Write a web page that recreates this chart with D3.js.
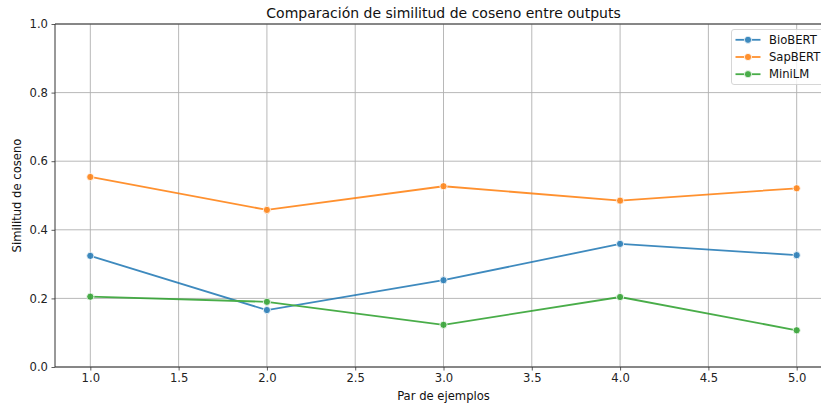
<!DOCTYPE html>
<html>
<head>
<meta charset="utf-8">
<script src="https://cdn.jsdelivr.net/npm/d3@7"></script>
<style>
  html, body { margin: 0; padding: 0; background: #fff; overflow: hidden; }
  svg { display: block; font-family: "DejaVu Sans", sans-serif; }
</style>
</head>
<body>
<svg id="chart" width="821" height="406"></svg>
<script>
// Cosine similarity per example pair, one array per model
const pairs = [1, 2, 3, 4, 5];
const bioBERT = [0.324, 0.166, 0.253, 0.359, 0.326];
const sapBERT = [0.554, 0.458, 0.527, 0.485, 0.521];
const miniLM  = [0.205, 0.190, 0.123, 0.204, 0.107];
const seriesNames = ["BioBERT", "SapBERT", "MiniLM"];
const seriesColors = ["#1f77b4", "#ff7f0e", "#2ca02c"];
const xTicks = [1.0, 1.5, 2.0, 2.5, 3.0, 3.5, 4.0, 4.5, 5.0];
const yTicks = [0.0, 0.2, 0.4, 0.6, 0.8, 1.0];

const series = [bioBERT, sapBERT, miniLM].map((vals, i) => ({
  name: seriesNames[i],
  color: seriesColors[i],
  points: pairs.map((p, j) => ({ x: p, y: vals[j] }))
}));

const svg = d3.select("#chart");
const plotLeft = 55, plotRight = 832, plotTop = 24, plotBottom = 367;
const tickFont = 11.6, titleFont = 14;

const x = d3.scaleLinear().domain([0.8, 5.2]).range([plotLeft, plotRight]);
const y = d3.scaleLinear().domain([0, 1]).range([plotBottom, plotTop]);

// grid
const grid = svg.append("g").attr("stroke", "#b0b0b0").attr("stroke-width", 0.9);
grid.selectAll("line.vx").data(xTicks).join("line")
  .attr("x1", d => x(d)).attr("x2", d => x(d))
  .attr("y1", plotTop).attr("y2", plotBottom);
grid.selectAll("line.hy").data(yTicks).join("line")
  .attr("x1", plotLeft).attr("x2", plotRight)
  .attr("y1", d => y(d)).attr("y2", d => y(d));

// lines and markers
const line = d3.line().x(d => x(d.x)).y(d => y(d.y));
const plot = svg.append("g").attr("opacity", 0.86);
series.forEach(s => {
  plot.append("path").datum(s.points)
    .attr("fill", "none").attr("stroke", s.color).attr("stroke-width", 1.8)
    .attr("d", line);
  plot.selectAll(null).data(s.points).join("circle")
    .attr("cx", d => x(d.x)).attr("cy", d => y(d.y)).attr("r", 3.6)
    .attr("fill", s.color).attr("stroke", "#fff").attr("stroke-width", 0.8);
});

// axes
const fmt = d3.format(".1f");
const xAxis = svg.append("g").attr("transform", `translate(0,${plotBottom})`)
  .call(d3.axisBottom(x).tickValues(xTicks).tickFormat(fmt).tickSizeOuter(0).tickSize(3.5).tickPadding(3.5));
const yAxis = svg.append("g").attr("transform", `translate(${plotLeft},0)`)
  .call(d3.axisLeft(y).tickValues(yTicks).tickFormat(fmt).tickSizeOuter(0).tickSize(3.5).tickPadding(3.5));
[xAxis, yAxis].forEach(a => {
  a.selectAll("text").attr("font-size", tickFont).attr("fill", "#222")
    .style("font-family", "DejaVu Sans, sans-serif");
  a.selectAll("line").attr("stroke", "#333").attr("stroke-width", 0.8);
  a.select(".domain").remove();
});

// spines
const spines = svg.append("g").attr("stroke", "#333").attr("stroke-width", 1);
spines.append("line").attr("x1", plotLeft).attr("x2", plotLeft).attr("y1", plotTop).attr("y2", plotBottom);
spines.append("line").attr("x1", plotLeft).attr("x2", plotRight).attr("y1", plotBottom).attr("y2", plotBottom);
spines.append("line").attr("x1", plotLeft).attr("x2", plotRight).attr("y1", plotTop).attr("y2", plotTop);
spines.append("line").attr("x1", plotRight).attr("x2", plotRight).attr("y1", plotTop).attr("y2", plotBottom);

// title and axis labels
svg.append("text").attr("x", (plotLeft + plotRight) / 2).attr("y", 18)
  .attr("text-anchor", "middle").attr("font-size", titleFont).attr("fill", "#111")
  .text("Comparación de similitud de coseno entre outputs");
svg.append("text").attr("x", (plotLeft + plotRight) / 2).attr("y", 400)
  .attr("text-anchor", "middle").attr("font-size", tickFont).attr("fill", "#111")
  .text("Par de ejemplos");
svg.append("text").attr("transform", `translate(21,${(plotTop + plotBottom) / 2}) rotate(-90)`)
  .attr("text-anchor", "middle").attr("font-size", tickFont).attr("fill", "#111")
  .text("Similitud de coseno");

// legend
const lg = svg.append("g").attr("transform", "translate(731.5,29.5)");
lg.append("rect").attr("width", 94).attr("height", 55).attr("rx", 2.5)
  .attr("fill", "#fff").attr("fill-opacity", 0.8).attr("stroke", "#ccc").attr("stroke-width", 0.8);
series.forEach((s, i) => {
  const g = lg.append("g").attr("transform", `translate(0,${10.3 + i * 17.2})`).attr("opacity", 0.86);
  g.append("line").attr("x1", 4).attr("x2", 29).attr("stroke", s.color).attr("stroke-width", 1.8);
  g.append("circle").attr("cx", 16.5).attr("r", 3.6).attr("fill", s.color)
    .attr("stroke", "#fff").attr("stroke-width", 0.8);
  lg.append("text").attr("x", 37.5).attr("y", 10.3 + i * 17.2).attr("dy", "0.35em")
    .attr("font-size", tickFont).attr("fill", "#111").text(s.name);
});
</script>
</body>
</html>
